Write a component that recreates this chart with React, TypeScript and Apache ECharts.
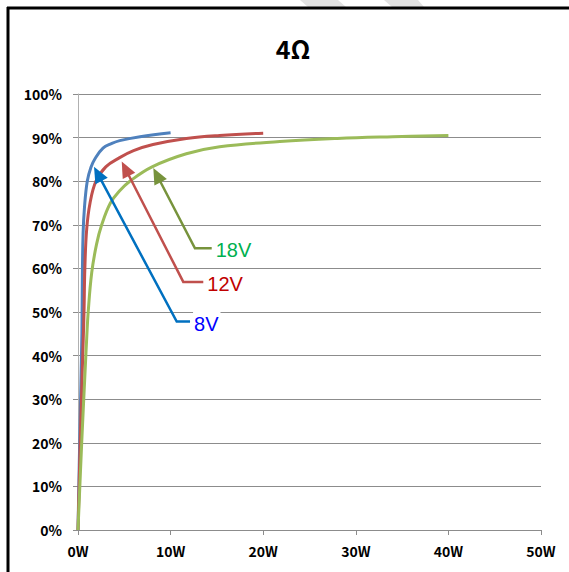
import { useEffect, useRef } from 'react';
import * as echarts from 'echarts';

// [output power W, efficiency %]
const eff8V: [number, number][] = [
  [0, 0], [0.2, 22], [0.42, 45], [0.47, 58], [0.55, 68], [0.7, 74], [1.0, 80],
  [1.4, 83.2], [1.85, 85.2], [2.7, 87.6], [3.6, 88.6], [4.5, 89.3], [6.7, 90.2], [10, 91.1],
];
const eff12V: [number, number][] = [
  [0, 0], [0.3, 25], [0.57, 44], [0.65, 50], [0.74, 60], [0.94, 69], [1.3, 75],
  [1.94, 80], [3.0, 83.3], [4.5, 85.4], [6, 87], [8.1, 88.4], [11.7, 89.8],
  [15.3, 90.5], [20, 91],
];
const eff18V: [number, number][] = [
  [0, 0], [0.4, 20], [0.8, 38], [0.94, 44], [1.1, 50], [1.48, 59], [2.0, 65.5],
  [2.56, 70], [3.5, 75], [4.5, 77.8], [5.6, 80], [8.0, 83.3], [11.7, 86.3],
  [15.3, 87.9], [21.8, 89.1], [28, 89.8], [34, 90.2], [40, 90.5],
];

const seriesNames = ['8V', '12V', '18V'];
const lineColors = ['#4F81BD', '#C0504D', '#9BBB59'];
const arrowColors = ['#0070C0', '#C0504D', '#77933C'];
const labelColors = ['#0000FF', '#C00000', '#00B050'];

// annotation geometry in data coords: arrow tip, elbow, end of horizontal leg
const arrowTips: [number, number][] = [[1.73, 83.3], [4.72, 84.5], [8.13, 83.0]];
const arrowElbows: [number, number][] = [[10.66, 47.8], [11.37, 56.9], [12.63, 64.6]];
const arrowEnds: [number, number][] = [[12.1, 47.8], [13.53, 56.9], [14.44, 64.6]];

const xTicks = [0, 10, 20, 30, 40, 50];
const yTicks = [0, 10, 20, 30, 40, 50, 60, 70, 80, 90, 100];

export default function App() {
  const ref = useRef<HTMLDivElement>(null);
  useEffect(() => {
    if (!ref.current) return;
    const chart = echarts.init(ref.current, null, { renderer: 'svg' });
    const data = [eff8V, eff12V, eff18V];
    chart.setOption({
      animation: false,
      backgroundColor: '#ffffff',
      grid: { left: 78, right: 28, top: 94, bottom: 42 },
      xAxis: {
        type: 'value',
        min: xTicks[0],
        max: xTicks[xTicks.length - 1],
        interval: 10,
        axisLine: { show: true, lineStyle: { color: '#8c8c8c', width: 1 } },
        axisTick: { show: true, length: 5, lineStyle: { color: '#8c8c8c' } },
        splitLine: { show: false },
        axisLabel: {
          formatter: (v: number) => `${v}W`,
          margin: 14,
          color: '#000',
          fontSize: 14,
          fontWeight: 'bold',
          fontFamily: 'Noto Sans CJK KR',
        },
      },
      yAxis: {
        type: 'value',
        min: yTicks[0],
        max: yTicks[yTicks.length - 1],
        interval: 10,
        axisLine: { show: true, lineStyle: { color: '#b0b0b0', width: 1 } },
        axisTick: { show: true, length: 5, lineStyle: { color: '#8c8c8c' } },
        splitLine: { show: true, lineStyle: { color: '#8c8c8c', width: 1 } },
        axisLabel: {
          formatter: (v: number) => `${v}%`,
          margin: 16,
          color: '#000',
          fontSize: 14,
          fontWeight: 'bold',
          fontFamily: 'Noto Sans CJK KR',
        },
      },
      series: data.map((d, i) => ({
        name: seriesNames[i],
        type: 'line',
        data: d,
        smooth: 0.4,
        showSymbol: false,
        lineStyle: { color: lineColors[i], width: 3 },
        itemStyle: { color: lineColors[i] },
        z: 2,
      })),
    });

    const px = (p: [number, number]) => chart.convertToPixel({ gridIndex: 0 }, p) as number[];
    const graphics: any[] = [];
    // border
    graphics.push({ type: 'line', shape: { x1: 7, y1: 8, x2: 569, y2: 8 }, style: { stroke: '#000', lineWidth: 3 }, z: 100 });
    graphics.push({ type: 'line', shape: { x1: 8, y1: 7, x2: 8, y2: 572 }, style: { stroke: '#000', lineWidth: 3 }, z: 100 });
    // faint watermark strokes at top
    graphics.push({ type: 'polygon', shape: { points: [[300, 0], [338, 0], [346, 7], [308, 7]] }, style: { fill: '#e2e2e2' }, z: 99 });
    graphics.push({ type: 'polygon', shape: { points: [[384, 0], [418, 0], [424, 7], [392, 7]] }, style: { fill: '#e2e2e2' }, z: 99 });
    // title
    graphics.push({
      type: 'text', x: 293, y: 48,
      style: { text: '4Ω', fontSize: 25, fontWeight: 'bold', fontFamily: 'Noto Sans CJK KR', fill: '#000', align: 'center', verticalAlign: 'middle' },
      z: 50,
    });
    for (let i = 0; i < 3; i++) {
      const t = px(arrowTips[i]);
      const e = px(arrowElbows[i]);
      const n = px(arrowEnds[i]);
      const dx = t[0] - e[0];
      const dy = t[1] - e[1];
      const len = Math.hypot(dx, dy);
      const ux = dx / len, uy = dy / len;
      const L = 16, W = 7;
      const bx = t[0] - ux * L, by = t[1] - uy * L;
      const nx = -uy, ny = ux;
      graphics.push({
        type: 'polyline',
        shape: { points: [[n[0], n[1]], [e[0], e[1]], [bx + ux * 2, by + uy * 2]] },
        style: { stroke: arrowColors[i], lineWidth: 2.5, fill: null },
        z: 20,
      });
      graphics.push({
        type: 'polygon',
        shape: { points: [[t[0], t[1]], [bx + nx * W, by + ny * W], [bx - nx * W, by - ny * W]] },
        style: { fill: arrowColors[i] },
        z: 21,
      });
      graphics.push({
        type: 'text', x: n[0] + 3, y: n[1] + 2,
        style: {
          text: seriesNames[i], fontSize: 20, fontFamily: 'Liberation Sans', fill: labelColors[i],
          align: 'left', verticalAlign: 'middle', backgroundColor: '#fff', padding: [3, 2, 3, 1],
        },
        z: 22,
      });
    }
    chart.setOption({ graphic: graphics });
    return () => chart.dispose();
  }, []);
  return <div ref={ref} style={{ position: 'fixed', left: 0, top: 0, width: 569, height: 572 }} />;
}
